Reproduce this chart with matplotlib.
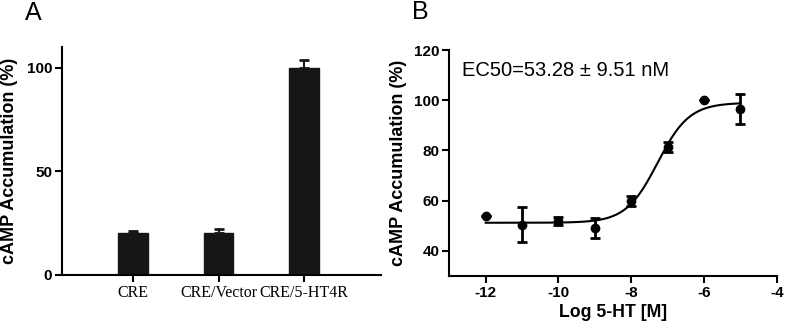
import matplotlib
matplotlib.use('Agg')
import matplotlib.pyplot as plt
import numpy as np

plt.rcParams['axes.unicode_minus'] = False

# Panel A data
groups = ["CRE", "CRE/Vector", "CRE/5-HT4R"]
camp_bar = [20.2, 20.5, 100.0]
camp_bar_err = [1.1, 1.6, 3.5]

# Panel B data
log_conc = [-12, -11, -10, -9, -8, -7, -6, -5]
camp_dose = [53.8, 50.5, 51.8, 49.2, 60.0, 81.3, 100.2, 96.6]
camp_dose_err = [0.0, 6.8, 1.5, 4.0, 2.0, 2.0, 0.0, 5.9]

# fitted 4PL parameters (EC50 from the label)
fit_bottom = 51.2
fit_top = 99.0
fit_logec50 = np.log10(53.28e-9)
fit_hill = 1.0

sans = ['Liberation Sans', 'DejaVu Sans']
serif = ['Liberation Serif', 'DejaVu Serif']

fig = plt.figure(figsize=(7.87, 3.32), dpi=100)

###############################################################################
# Panel A - bar chart
#
ax_a = fig.add_axes([62 / 787, 57 / 332, 319 / 787, 228 / 332])
x_pos = np.arange(1, len(groups) + 1)
ax_a.bar(x_pos, camp_bar, width=0.35, color='#161616', edgecolor='#161616', zorder=2)
ax_a.errorbar(x_pos, camp_bar, yerr=[np.zeros(len(camp_bar)), camp_bar_err],
              fmt='none', ecolor='#161616', elinewidth=1.5, capsize=3.5, capthick=2, zorder=1)
ax_a.set_xlim(0.17, 3.9)
ax_a.set_ylim(0, 110)
ax_a.set_yticks([0, 50, 100])
ax_a.set_xticks(x_pos)
ax_a.set_xticklabels(groups, family=serif, fontsize=11.5)
for lab in ax_a.get_yticklabels():
    lab.set_family(sans)
    lab.set_fontweight('bold')
    lab.set_fontsize(11)
ax_a.set_ylabel("cAMP Accumulation (%)", family=sans, fontweight='bold', fontsize=13)
ax_a.yaxis.set_label_coords(-0.138, 0.5)
for side in ['top', 'right']:
    ax_a.spines[side].set_visible(False)
for side in ['left', 'bottom']:
    ax_a.spines[side].set_linewidth(1.5)
ax_a.tick_params(width=1.5, length=5, pad=2)
fig.text(25 / 787, 0.962, "A", family=sans, fontsize=18, ha='left', va='center')

###############################################################################
# Panel B - dose response
#
ax_b = fig.add_axes([449.3 / 787, 56 / 332, 327.4 / 787, 226 / 332])
xfit = np.linspace(-12, -5, 300)
yfit = fit_bottom + (fit_top - fit_bottom) / (1 + 10 ** ((fit_logec50 - xfit) * fit_hill))
ax_b.plot(xfit, yfit, color='black', lw=1.5)
ax_b.errorbar(log_conc, camp_dose, yerr=camp_dose_err, fmt='o', color='black',
              ms=6, elinewidth=2, capsize=3.5, capthick=2)
ax_b.set_xlim(-13, -4)
ax_b.set_ylim(30, 120)
ax_b.set_xticks([-12, -10, -8, -6, -4])
ax_b.set_yticks([40, 60, 80, 100, 120])
for lab in ax_b.get_xticklabels() + ax_b.get_yticklabels():
    lab.set_family(sans)
    lab.set_fontweight('bold')
    lab.set_fontsize(11)
ax_b.set_xlabel("Log 5-HT [M]", family=sans, fontweight='bold', fontsize=12.7, labelpad=3)
ax_b.set_ylabel("cAMP Accumulation (%)", family=sans, fontweight='bold', fontsize=13)
ax_b.yaxis.set_label_coords(-0.129, 0.5)
for side in ['top', 'right']:
    ax_b.spines[side].set_visible(False)
for side in ['left', 'bottom']:
    ax_b.spines[side].set_linewidth(1.5)
ax_b.tick_params(width=1.5, length=5, pad=2)
ax_b.text(-12.66, 112, "EC50=53.28 \u00b1 9.51 nM", family=sans, fontsize=14.5, ha='left', va='center')
fig.text(412 / 787, 0.963, "B", family=sans, fontsize=18, ha='left', va='center')

plt.savefig("out.png", dpi=100)
